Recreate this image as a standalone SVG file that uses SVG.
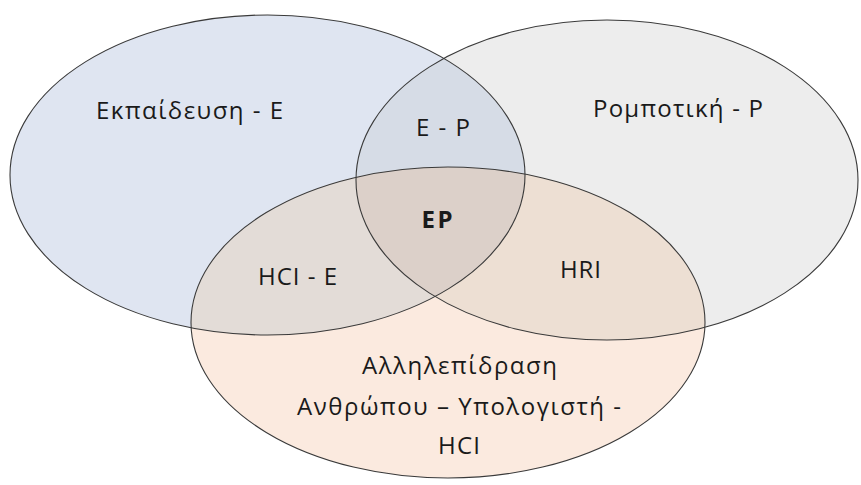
<svg xmlns="http://www.w3.org/2000/svg" width="861" height="485" viewBox="0 0 861 485">
<style>
text{font-family:"Open Sans","Liberation Sans",sans-serif;font-size:24px;fill:#1a1a1a;text-anchor:middle}
.b{font-weight:bold}
.ol{fill:none;stroke:#3a3a3a;stroke-width:1.1}
</style>
<defs>
<ellipse id="eL" cx="267.5" cy="175" rx="257.5" ry="160"/>
<ellipse id="eR" cx="607" cy="180" rx="251" ry="160"/>
<ellipse id="eB" cx="448" cy="322.5" rx="257" ry="155.5"/>
<clipPath id="cL"><use href="#eL"/></clipPath>
<clipPath id="cR"><use href="#eR"/></clipPath>
</defs>
<rect width="861" height="485" fill="#ffffff"/>
<g id="node-E">
<use href="#eL" fill="#DFE5F1"/>
<text x="189.5" y="119" textLength="187" lengthAdjust="spacing">Εκπαίδευση - E</text>
</g>
<g id="node-P">
<use href="#eR" fill="#EDEDED"/>
<text x="678" y="117" textLength="170" lengthAdjust="spacing">Ρομποτική - P</text>
</g>
<g id="node-HCI">
<use href="#eB" fill="#FBEADF"/>
<text x="459.5" y="374" textLength="195" lengthAdjust="spacing">Αλληλεπίδραση</text>
<text x="459" y="415" textLength="324" lengthAdjust="spacing">Ανθρώπου – Υπολογιστή -</text>
<text x="459" y="454" textLength="42" lengthAdjust="spacing">HCI</text>
</g>
<g id="node-EP-pair">
<use href="#eR" fill="#D6DCE6" clip-path="url(#cL)"/>
<text x="443" y="136" textLength="54" lengthAdjust="spacing">E - P</text>
</g>
<g id="node-HCI-E">
<use href="#eB" fill="#E3DCD7" clip-path="url(#cL)"/>
<text x="297.5" y="285" textLength="79" lengthAdjust="spacing">HCI - E</text>
</g>
<g id="node-HRI">
<use href="#eB" fill="#EDDFD3" clip-path="url(#cR)"/>
<text x="580.5" y="278" textLength="41" lengthAdjust="spacing">HRI</text>
</g>
<g id="node-EP">
<g clip-path="url(#cR)"><use href="#eB" fill="#DCD0C9" clip-path="url(#cL)"/></g>
<text class="b" x="437" y="228" textLength="31" lengthAdjust="spacing">EP</text>
</g>
<g id="connectors">
<use href="#eL" class="ol"/>
<use href="#eR" class="ol"/>
<use href="#eB" class="ol"/>
</g>
</svg>
